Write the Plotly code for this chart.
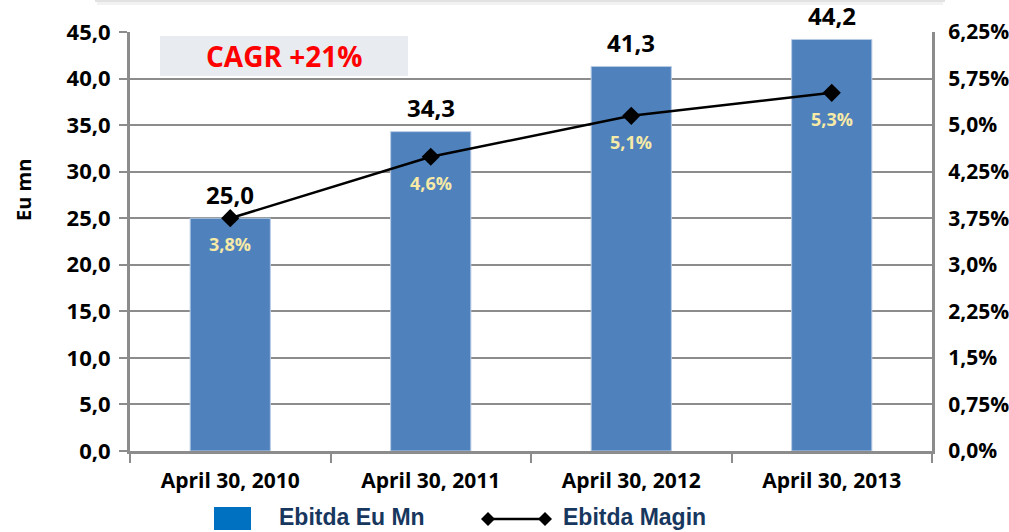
import plotly.graph_objects as go

# ---------------- data ----------------
categories = ["April 30, 2010", "April 30, 2011", "April 30, 2012", "April 30, 2013"]
ebitda = [25.0, 34.3, 41.3, 44.2]
ebitda_labels = ["25,0", "34,3", "41,3", "44,2"]
margin_values = [3.75, 4.74, 5.40, 5.77]          # position of the margin line on the right axis
margin_labels = ["3,8%", "4,6%", "5,1%", "5,3%"]
left_ticks = [0, 5, 10, 15, 20, 25, 30, 35, 40, 45]
left_ticktext = ["0,0", "5,0", "10,0", "15,0", "20,0", "25,0", "30,0", "35,0", "40,0", "45,0"]
right_ticks = [0, 0.75, 1.5, 2.25, 3.0, 3.75, 4.5, 5.25, 6.0, 6.75]
right_ticktext = ["0,0%", "0,75%", "1,5%", "2,25%", "3,0%", "3,75%", "4,25%", "5,0%", "5,75%", "6,25%"]
cagr_text = "CAGR +21%"
y_title = "Eu mn"
legend_names = ["Ebitda Eu Mn", "Ebitda Magin"]

# ---------------- layout helpers ----------------
W, H = 1009, 532
ML, MR, MT, MB = 130, 77, 32, 81
PW, PH = W - ML - MR, H - MT - MB


def px(xp):
    return (xp - ML) / PW


def py(yp):
    return (H - MB - yp) / PH


FONT = "Open Sans"
GRID = "#8C8C8C"
BAR = "#4F81BD"

fig = go.Figure()

fig.add_trace(go.Bar(
    x=categories, y=ebitda, name=legend_names[0],
    marker=dict(color=BAR, line=dict(color="#B8CCE4", width=1)),
    showlegend=False, hoverinfo="skip",
))

fig.add_trace(go.Scatter(
    x=categories, y=margin_values, name=legend_names[1], yaxis="y2",
    mode="lines+markers",
    line=dict(color="black", width=2.5),
    marker=dict(symbol="diamond", size=14, color="black"),
    showlegend=False, hoverinfo="skip",
))

annotations = []
for c, v, t in zip(categories, ebitda, ebitda_labels):
    annotations.append(dict(x=c, y=v, xref="x", yref="y", text=t, showarrow=False,
                            yanchor="middle", yshift=24,
                            font=dict(family=FONT, size=24, color="black", weight="bold")))
for c, v, t in zip(categories, margin_values, margin_labels):
    annotations.append(dict(x=c, y=v, xref="x", yref="y2", text=t, showarrow=False,
                            yanchor="middle", yshift=-26,
                            font=dict(family=FONT, size=18, color="#F6EAA6", weight="bold")))

# CAGR label
annotations.append(dict(x=px(284), y=py(56), xref="paper", yref="paper", text=cagr_text,
                        showarrow=False, xanchor="center", yanchor="middle",
                        font=dict(family=FONT, size=28, color="#FF0000", weight="bold")))
# y title
annotations.append(dict(x=px(24), y=py(190), xref="paper", yref="paper", text=y_title,
                        showarrow=False, textangle=-90, xanchor="center", yanchor="middle",
                        font=dict(family=FONT, size=20, color="black", weight="bold")))
# legend texts
annotations.append(dict(x=px(277), y=py(517), xref="paper", yref="paper", text=legend_names[0],
                        showarrow=False, xanchor="left", yanchor="middle",
                        font=dict(family="Liberation Sans", size=23, color="#17375E", weight="bold")))
annotations.append(dict(x=px(561), y=py(517), xref="paper", yref="paper", text=legend_names[1],
                        showarrow=False, xanchor="left", yanchor="middle",
                        font=dict(family="Liberation Sans", size=23, color="#17375E", weight="bold")))

shapes = [
    # faint shadow of a box at the very top
    dict(type="rect", xref="paper", yref="paper", x0=px(95), x1=px(945), y0=py(2), y1=py(0),
         fillcolor="#E2E2E2", line=dict(width=0), layer="below"),
    dict(type="rect", xref="paper", yref="paper", x0=px(97), x1=px(943), y0=py(5), y1=py(2),
         fillcolor="#F2F2F2", line=dict(width=0), layer="below"),
    # CAGR box
    dict(type="rect", xref="paper", yref="paper", x0=px(160), x1=px(408), y0=py(76), y1=py(36),
         fillcolor="#E8EBF0", line=dict(width=0), layer="below"),
    # legend: bar swatch
    dict(type="rect", xref="paper", yref="paper", x0=px(214), x1=px(251), y0=py(530), y1=py(507),
         fillcolor="#0070C0", line=dict(width=0)),
    # legend: line swatch
    dict(type="line", xref="paper", yref="paper", x0=px(488), x1=px(545), y0=py(519), y1=py(519),
         line=dict(color="black", width=2.5)),
]
for cx in (488, 545):
    shapes.append(dict(
        type="path", xref="paper", yref="paper",
        path=f"M {px(cx-7)} {py(519)} L {px(cx)} {py(512)} L {px(cx+7)} {py(519)} L {px(cx)} {py(526)} Z",
        fillcolor="black", line=dict(color="black", width=0)))

fig.update_layout(
    width=W, height=H,
    margin=dict(l=ML, r=MR, t=MT, b=MB, pad=0, autoexpand=False),
    paper_bgcolor="white", plot_bgcolor="white",
    bargap=0.6,
    showlegend=False,
    xaxis=dict(
        type="category", range=[-0.5, 3.5], automargin=False,
        showline=True, linecolor=GRID, linewidth=3,
        ticks="outside", tickson="boundaries", ticklen=9, tickwidth=2, tickcolor=GRID,
        tickfont=dict(family=FONT, size=21, color="black", weight="bold"),
        showgrid=False, zeroline=False, ticklabelstandoff=9,
    ),
    yaxis=dict(
        range=[0, 45], tickvals=left_ticks, ticktext=left_ticktext, automargin=False,
        showgrid=True, gridcolor=GRID, gridwidth=2,
        showline=True, linecolor=GRID, linewidth=3,
        ticks="outside", ticklen=8, tickwidth=2, tickcolor=GRID,
        tickfont=dict(family=FONT, size=22, color="black", weight="bold"),
        zeroline=False, ticklabelstandoff=4,
    ),
    yaxis2=dict(
        overlaying="y", side="right", anchor="x", automargin=False,
        range=[0, 6.75], tickvals=right_ticks, ticktext=right_ticktext,
        showgrid=False, showline=True, linecolor=GRID, linewidth=3,
        ticks="", zeroline=False,
        tickfont=dict(family=FONT, size=21, color="black", weight="bold"),
        ticklabelstandoff=9,
    ),
    annotations=annotations,
    shapes=shapes,
)

fig.write_html("out.html", config={"displayModeBar": False},
               post_script="document.body.style.margin='0';document.body.style.overflow='hidden';")
